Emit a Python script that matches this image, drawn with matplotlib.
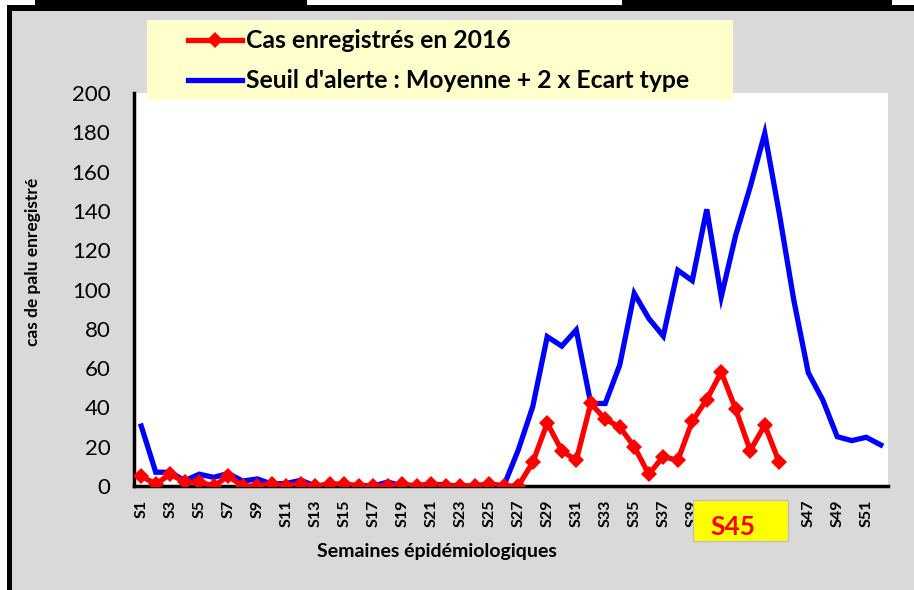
import matplotlib
matplotlib.use("Agg")
import matplotlib.pyplot as plt
from matplotlib.patches import Rectangle
from matplotlib.lines import Line2D

# ---------------- data ----------------
weeks = [f"S{i}" for i in range(1, 53)]
cas_2016 = [5, 1, 6, 2, 2, 0, 5, 0, 0, 1, 0, 1, 0, 1, 1, 0, 0, 0, 1, 0,
            1, 0, 0, 0, 1, 0, 0, 12, 32, 18, 13, 42, 34, 30, 20, 6, 15, 13,
            33, 44, 58, 39, 18, 31, 12]
seuil = [30.5, 7, 7, 2.7, 6, 4.4, 6.4, 2.5, 3.6, 1, 1.3, 2.9, 0, 0.5, 0.5,
         0.3, 0, 2, 0, 0, 1, 0.5, 0, 0, 1, 0, 18.3, 40.4, 76, 71.2, 79.4,
         42, 42, 61.6, 98, 85.3, 76.3, 109.8, 104.5, 140.8, 96.3, 127.7,
         152.3, 179.5, 138.8, 94.7, 57.7, 43.8, 25.1, 23.1, 24.8, 20.9]
y_ticks = [0, 20, 40, 60, 80, 100, 120, 140, 160, 180, 200]
label_cas = "Cas enregistrés en 2016"
label_seuil = "Seuil d'alerte : Moyenne + 2 x Ecart type"
highlight = "S45"

W, H = 914, 590
FONT = ["Lato", "DejaVu Sans"]
plt.rcParams["font.family"] = FONT

fig = plt.figure(figsize=(W / 100, H / 100), dpi=100)
fig.patch.set_facecolor("white")


def fx(x):
    return x / W


def fy(y):
    return 1 - y / H


def rect(x0, y0, x1, y1, **kw):
    r = Rectangle((fx(x0), fy(y1)), fx(x1) - fx(x0), fy(y0) - fy(y1),
                  transform=fig.transFigure, **kw)
    fig.add_artist(r)
    return r


# frame / background
rect(10, 10, 914, 590, facecolor="#D9D9D9", edgecolor="none", zorder=-10)
rect(7, 5, 12, 590, facecolor="black", edgecolor="none", zorder=-9)
rect(7, 5, 914, 11, facecolor="black", edgecolor="none", zorder=-9)
rect(35, 0, 307, 6, facecolor="black", edgecolor="none", zorder=-9)
rect(622, 0, 892, 6, facecolor="black", edgecolor="none", zorder=-9)

# axes
L, R, T, B = 134, 888, 93, 486
ax = fig.add_axes([fx(L), fy(B), fx(R) - fx(L), fy(T) - fy(B)])
ax.set_facecolor("white")

x_all = list(range(len(weeks)))
ax.plot(x_all, seuil, color="#0000FF", lw=3.8, solid_joinstyle="miter",
        zorder=3)
ax.plot(list(range(len(cas_2016))), cas_2016, color="#FF0000", lw=3.8,
        marker="D", markersize=8, markeredgewidth=0, zorder=4)

ax.set_xlim(-0.5, len(weeks) - 0.5)
ax.set_ylim(0, 200)
ax.set_yticks(y_ticks)
ax.set_yticklabels([str(v) for v in y_ticks], fontsize=16)
ax.set_xticks(x_all[::2])
ax.set_xticklabels(weeks[::2], rotation=90, fontsize=11.5, fontweight="bold")
ax.tick_params(axis="both", length=0)
ax.tick_params(axis="y", pad=17)
ax.tick_params(axis="x", pad=10)
for s in ["top", "right"]:
    ax.spines[s].set_visible(False)
for s in ["left", "bottom"]:
    ax.spines[s].set_linewidth(2.5)
    ax.spines[s].set_color("black")

ax.set_xlabel("Semaines épidémiologiques", fontsize=14, fontweight="bold")
ax.xaxis.set_label_coords((437 - L) / (R - L), (B - 543) / (B - T))
ax.set_ylabel("cas de palu enregistré", fontsize=12.5, fontweight="bold")
ax.yaxis.set_label_coords((41 - L) / (R - L), (B - 262) / (B - T))

# legend box
rect(147, 20, 733, 100, facecolor="#FFFFCC", edgecolor="none", zorder=5)
fig.add_artist(Line2D([fx(188), fx(242)], [fy(40), fy(40)],
                      transform=fig.transFigure, color="#FF0000", lw=3.8,
                      zorder=6))
fig.add_artist(Line2D([fx(215)], [fy(40)], transform=fig.transFigure,
                      color="#FF0000", marker="D", markersize=8,
                      markeredgewidth=0, zorder=6))
fig.add_artist(Line2D([fx(188), fx(242)], [fy(80), fy(80)],
                      transform=fig.transFigure, color="#0000FF", lw=3.8,
                      zorder=6))
fig.text(fx(246), fy(41), label_cas, fontsize=17.8, fontweight="bold",
         ha="left", va="center", zorder=7)
fig.text(fx(246), fy(81), label_seuil, fontsize=17.8, fontweight="bold",
         ha="left", va="center", zorder=7)

# S45 highlight box
rect(693, 500, 788, 541, facecolor="#FFFF00", edgecolor="#BFBFBF", lw=1,
     zorder=8)
fig.text(fx(733), fy(527), highlight, fontsize=19, fontweight="bold",
         color="#FF0000", ha="center", va="center", zorder=9)

fig.savefig("out.png", dpi=100)
